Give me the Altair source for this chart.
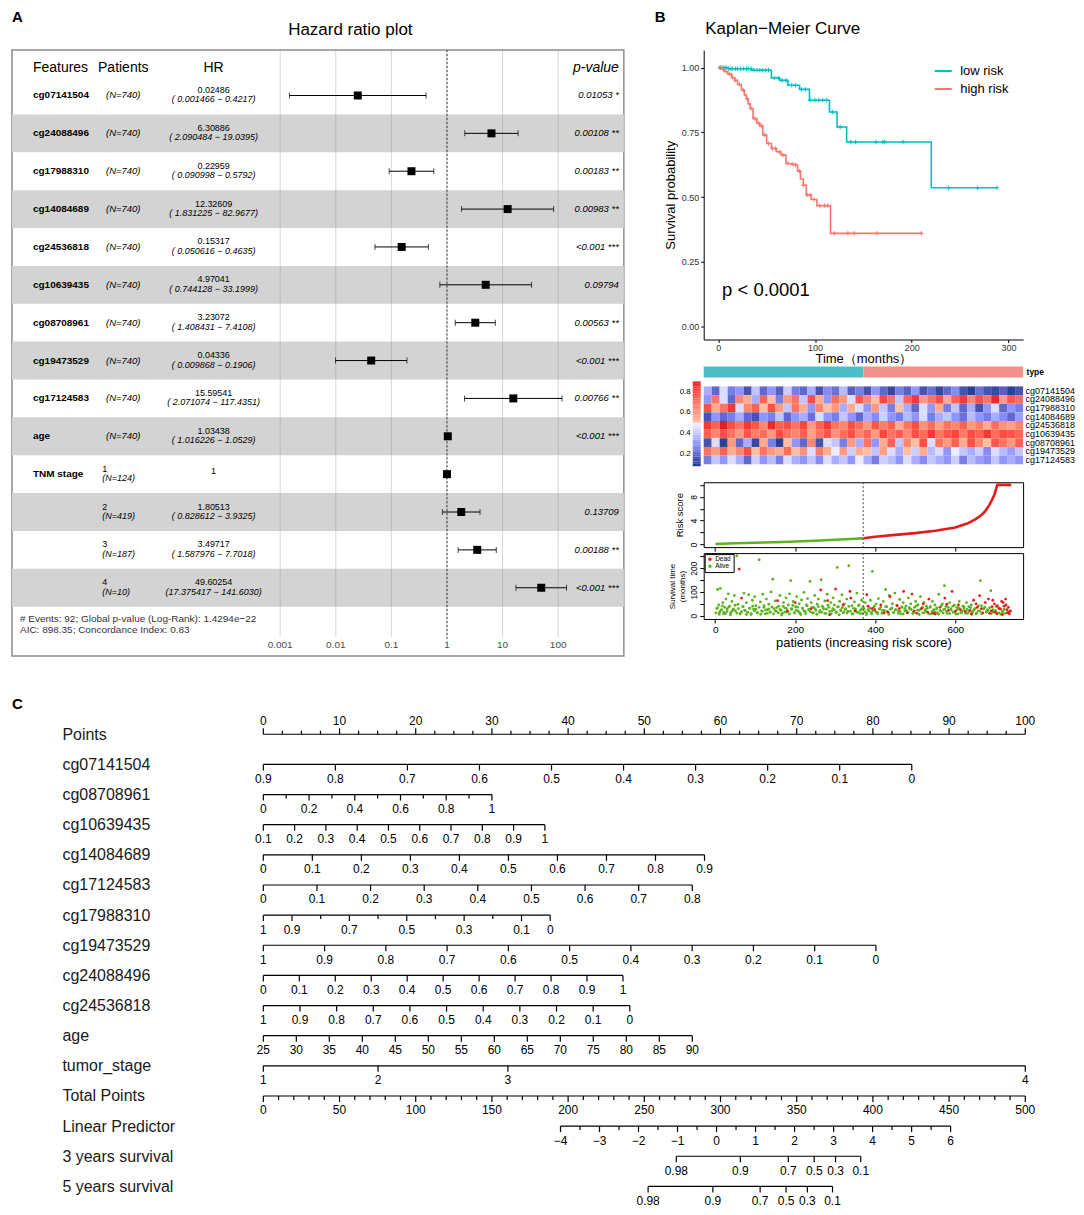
import altair as alt
import numpy as np
import pandas as pd

FONT = "Liberation Sans"

# ===================== DATA : panel A (hazard ratios) =====================
FEATURES = ["cg07141504", "cg24088496", "cg17988310", "cg14084689", "cg24536818",
            "cg10639435", "cg08708961", "cg19473529", "cg17124583", "age",
            "TNM stage", "", "", ""]
STAGE_LEVEL = ["", "", "", "", "", "", "", "", "", "", "1", "2", "3", "4"]
PATIENTS_N = [740, 740, 740, 740, 740, 740, 740, 740, 740, 740, 124, 419, 187, 10]
HR = [0.02486, 6.30886, 0.22959, 12.32609, 0.15317, 4.97041, 3.23072, 0.04336,
      15.59541, 1.03438, 1, 1.80513, 3.49717, 49.60254]
HR_LOW = [0.001466, 2.090484, 0.090998, 1.831225, 0.050616, 0.744128, 1.408431,
          0.009868, 2.071074, 1.016226, None, 0.828612, 1.587976, 17.375417]
HR_HIGH = [0.4217, 19.0395, 0.5792, 82.9677, 0.4635, 33.1999, 7.4108, 0.1906,
           117.4351, 1.0529, None, 3.9325, 7.7018, 141.6030]
HR_TEXT = ["0.02486", "6.30886", "0.22959", "12.32609", "0.15317", "4.97041", "3.23072",
           "0.04336", "15.59541", "1.03438", "1", "1.80513", "3.49717", "49.60254"]
CI_TEXT = ["( 0.001466 − 0.4217)", "( 2.090484 − 19.0395)", "( 0.090998 − 0.5792)",
           "( 1.831225 − 82.9677)", "( 0.050616 − 0.4635)", "( 0.744128 − 33.1999)",
           "( 1.408431 − 7.4108)", "( 0.009868 − 0.1906)", "( 2.071074 − 117.4351)",
           "( 1.016226 − 1.0529)", "", "( 0.828612 − 3.9325)", "( 1.587976 − 7.7018)",
           "(17.375417 − 141.6030)"]
P_TEXT = ["0.01053 *", "0.00108 **", "0.00183 **", "0.00983 **", "<0.001 ***", "0.09794",
          "0.00563 **", "<0.001 ***", "0.00766 **", "<0.001 ***", "", "0.13709",
          "0.00188 **", "<0.001 ***"]
TABLE_HEADERS = ["Features", "Patients", "HR"]
FOOTER_LINES = ["# Events: 92; Global p-value (Log-Rank): 1.4294e−22",
                "AIC: 898.35; Concordance Index: 0.83"]
HR_AXIS_TICKS = [0.001, 0.01, 0.1, 1, 10, 100]
HR_AXIS_LABELS = ["0.001", "0.01", "0.1", "1", "10", "100"]

# ===================== DATA : panel B =====================
KM_GROUPS = ["low risk", "high risk"]
KM_LOW_T = [0, 10.3, 34.3, 54.9, 63.5, 72.0, 84.0, 94.3, 114.9, 122.8, 132.7, 220.1, 288.0]
KM_LOW_S = [1.0, 0.996, 0.990, 0.960, 0.951, 0.932, 0.916, 0.874, 0.829, 0.771, 0.713, 0.536, 0.536]
KM_HIGH_T = [0, 3, 6, 10, 14, 17, 20, 24, 27, 29, 31, 33, 36, 40, 43, 46, 50, 55, 60, 65,
             70, 75, 80, 82, 85, 88, 91, 96, 102, 116, 210]
KM_HIGH_S = [1.0, 0.995, 0.985, 0.975, 0.962, 0.951, 0.935, 0.913, 0.895, 0.880, 0.860,
             0.842, 0.803, 0.785, 0.775, 0.740, 0.707, 0.688, 0.675, 0.662, 0.630, 0.627,
             0.624, 0.600, 0.570, 0.546, 0.508, 0.491, 0.467, 0.360, 0.360]
KM_LOW_CENSOR = [2, 4, 6, 8, 11, 13, 15, 18, 20, 23, 26, 29, 31, 34, 37, 40, 43, 46, 49, 52,
                 58, 62, 66, 70, 76, 80, 86, 90, 95, 100, 104, 108, 112, 118, 126, 137, 142,
                 163, 170, 172, 191, 238, 268, 288]
KM_HIGH_CENSOR = [2, 5, 8, 12, 15, 18, 22, 26, 30, 34, 38, 42, 45, 48, 52, 56, 59, 63, 67,
                  72, 77, 80, 84, 88, 92, 95, 99, 105, 110, 113, 120, 134, 140.5, 164, 210]
KM_PVALUE = "p < 0.0001"
KM_X_TICKS = [0, 100, 200, 300]
KM_Y_TICKS = [0, 0.25, 0.5, 0.75, 1.0]

N_PATIENTS = 740
RISK_CUTOFF = 370
TYPE_GROUPS = ["low risk", "high risk"]
TYPE_FROM = [0, 370]
TYPE_TO = [370, 740]

HEAT_ROWS = ["cg07141504", "cg24088496", "cg17988310", "cg14084689", "cg24536818",
             "cg10639435", "cg08708961", "cg19473529", "cg17124583"]
HEAT_VALUES = [
    [0.35, 0.2, 0.45, 0.25, 0.3, 0.15, 0.4, 0.2, 0.3, 0.18, 0.42, 0.25, 0.2, 0.35, 0.15, 0.28, 0.22, 0.38, 0.18, 0.25,
     0.15, 0.3, 0.2, 0.12, 0.25, 0.18, 0.3, 0.15, 0.22, 0.12, 0.2, 0.28, 0.15, 0.1, 0.22, 0.15, 0.12, 0.18, 0.1, 0.15],
    [0.3, 0.7, 0.45, 0.2, 0.65, 0.55, 0.35, 0.75, 0.5, 0.25, 0.6, 0.7, 0.4, 0.8, 0.55, 0.3, 0.72, 0.6, 0.45, 0.78,
     0.65, 0.5, 0.82, 0.7, 0.4, 0.75, 0.85, 0.6, 0.7, 0.8, 0.55, 0.75, 0.85, 0.65, 0.8, 0.7, 0.88, 0.6, 0.78, 0.72],
    [0.8, 0.55, 0.7, 0.85, 0.45, 0.65, 0.75, 0.5, 0.8, 0.6, 0.4, 0.7, 0.55, 0.3, 0.65, 0.5, 0.6, 0.35, 0.55, 0.45,
     0.3, 0.6, 0.4, 0.25, 0.5, 0.35, 0.2, 0.45, 0.3, 0.55, 0.25, 0.4, 0.2, 0.35, 0.15, 0.3, 0.45, 0.2, 0.3, 0.25],
    [0.15, 0.3, 0.2, 0.25, 0.35, 0.2, 0.15, 0.3, 0.25, 0.4, 0.2, 0.3, 0.35, 0.22, 0.45, 0.3, 0.25, 0.4, 0.3, 0.2,
     0.35, 0.28, 0.42, 0.3, 0.25, 0.38, 0.3, 0.45, 0.25, 0.35, 0.4, 0.3, 0.22, 0.38, 0.3, 0.25, 0.35, 0.28, 0.2, 0.32],
    [0.85, 0.75, 0.9, 0.8, 0.7, 0.85, 0.78, 0.65, 0.88, 0.75, 0.8, 0.7, 0.82, 0.6, 0.75, 0.85, 0.7, 0.65, 0.8, 0.72,
     0.6, 0.78, 0.68, 0.75, 0.55, 0.7, 0.8, 0.62, 0.72, 0.58, 0.7, 0.65, 0.75, 0.6, 0.68, 0.55, 0.72, 0.62, 0.58, 0.66],
    [0.75, 0.65, 0.8, 0.7, 0.6, 0.78, 0.68, 0.72, 0.6, 0.8, 0.7, 0.65, 0.75, 0.58, 0.7, 0.78, 0.62, 0.72, 0.8, 0.66,
     0.74, 0.6, 0.82, 0.7, 0.76, 0.64, 0.8, 0.72, 0.85, 0.7, 0.78, 0.82, 0.68, 0.8, 0.75, 0.85, 0.72, 0.8, 0.78, 0.74],
    [0.15, 0.45, 0.1, 0.6, 0.2, 0.35, 0.12, 0.55, 0.25, 0.1, 0.5, 0.3, 0.2, 0.65, 0.15, 0.45, 0.4, 0.25, 0.6, 0.35,
     0.7, 0.3, 0.55, 0.75, 0.4, 0.65, 0.5, 0.8, 0.45, 0.7, 0.6, 0.75, 0.55, 0.8, 0.65, 0.5, 0.78, 0.7, 0.6, 0.75],
    [0.7, 0.6, 0.75, 0.55, 0.65, 0.8, 0.5, 0.7, 0.6, 0.55, 0.72, 0.5, 0.62, 0.45, 0.68, 0.55, 0.48, 0.6, 0.42, 0.55,
     0.5, 0.4, 0.58, 0.45, 0.35, 0.5, 0.42, 0.55, 0.38, 0.45, 0.3, 0.48, 0.4, 0.35, 0.42, 0.28, 0.45, 0.38, 0.32, 0.4],
    [0.25, 0.4, 0.3, 0.45, 0.35, 0.2, 0.42, 0.3, 0.38, 0.25, 0.45, 0.35, 0.3, 0.4, 0.28, 0.45, 0.35, 0.4, 0.3, 0.48,
     0.35, 0.25, 0.42, 0.38, 0.3, 0.45, 0.35, 0.28, 0.4, 0.35, 0.3, 0.42, 0.25, 0.38, 0.32, 0.28, 0.4, 0.3, 0.35, 0.3],
]
HEAT_DOMAIN = [0.08, 0.5, 0.9]
HEAT_LEGEND_VALUES = [0.2, 0.4, 0.6, 0.8]

RISK_PATIENT = [1, 50, 100, 150, 200, 250, 300, 350, 370, 371, 400, 450, 500, 550, 600, 630,
                650, 665, 675, 685, 692, 698, 702, 705, 740]
RISK_SCORE = [0.08, 0.2, 0.28, 0.38, 0.5, 0.62, 0.78, 0.95, 1.02, 1.05, 1.3, 1.6, 1.9, 2.3,
              2.85, 3.5, 4.2, 4.9, 5.6, 6.6, 7.5, 8.4, 9.3, 10.0, 10.0]

ALIVE_OBS = [(4, 30), (6, 110), (9, 45), (11, 15), (13, 115), (16, 25), (19, 55), (21, 8), (24, 35), (27, 70),
             (30, 18), (33, 92), (36, 40), (39, 12), (42, 60), (45, 28), (48, 85), (51, 20), (54, 252), (57, 48),
             (63, 10), (69, 38), (72, 95), (75, 22), (78, 55), (81, 14), (84, 88), (87, 32), (90, 5), (93, 65),
             (96, 27), (99, 80), (102, 42), (105, 12), (110, 235), (113, 58), (116, 20), (119, 90), (122, 35),
             (125, 8), (128, 70), (131, 25), (134, 48), (137, 15), (140, 100), (144, 153), (147, 30), (150, 62),
             (153, 18), (159, 40), (162, 85), (165, 22), (168, 10), (171, 55), (174, 33), (177, 75), (180, 15),
             (183, 45), (186, 92), (189, 147), (192, 28), (195, 60), (198, 12), (201, 38), (204, 80), (207, 20),
             (210, 50), (213, 8), (216, 66), (219, 30), (222, 98), (225, 18), (228, 45), (231, 72), (234, 25),
             (237, 144), (240, 55), (243, 12), (246, 35), (249, 85), (252, 22), (255, 48), (258, 70), (261, 15),
             (265, 151), (268, 40), (271, 28), (274, 62), (277, 10), (280, 90), (284, 35), (289, 55), (292, 20),
             (295, 75), (298, 45), (303, 15), (305, 203), (308, 38), (311, 60), (314, 25), (317, 88), (320, 12),
             (323, 50), (326, 30), (329, 70), (332, 18), (334, 210), (342, 42), (345, 8), (348, 58), (351, 28),
             (354, 95), (357, 15), (360, 45), (363, 22), (366, 65), (368, 10), (372, 30), (375, 55), (378, 12),
             (385, 20), (388, 65), (391, 8), (393, 186), (396, 35), (402, 50), (405, 15), (408, 72), (411, 28),
             (417, 10), (420, 60), (423, 22), (426, 110), (429, 38), (435, 85), (440, 30), (443, 50), (446, 12),
             (449, 95), (452, 25), (458, 18), (461, 68), (464, 8), (467, 35), (470, 55), (474, 20), (477, 40),
             (483, 75), (486, 28), (489, 50), (495, 15), (498, 35), (501, 60), (507, 45), (510, 22), (513, 80),
             (519, 12), (522, 55), (525, 25), (528, 40), (537, 35), (540, 8), (543, 60), (546, 20), (549, 45),
             (553, 28), (556, 12), (559, 90), (565, 18), (568, 50), (571, 25), (573, 126), (577, 40), (580, 10),
             (586, 55), (589, 30), (595, 15), (598, 45), (604, 35), (607, 8), (610, 60), (616, 12), (619, 40),
             (622, 30), (628, 55), (631, 10), (634, 38), (640, 45), (643, 15), (649, 28), (652, 8), (658, 20),
             (663, 147), (666, 42), (672, 30), (678, 18), (681, 25), (689, 105), (695, 15), (701, 22), (707, 35),
             (710, 12), (719, 18), (725, 10), (732, 15)]
ALIVE_BAND_T = [12, 33, 6, 22, 41, 15, 9, 28, 36, 4, 19, 25, 44, 11, 30, 7, 17, 38, 23, 5, 14, 31, 9, 40, 20,
                27, 13, 35, 6, 18, 42, 24, 10, 29, 16, 37, 8, 21, 34, 12, 26, 3, 39, 15, 31, 19, 7, 28, 43, 11,
                23, 36, 14, 5, 32, 20, 9, 41, 25, 17, 35, 12, 29, 6, 38, 22, 15, 33, 10, 27, 44, 18, 8, 30, 24,
                13, 37, 4, 21, 34, 16, 26, 11, 39, 19, 7, 31, 23, 14, 42, 9, 28, 36, 17, 5, 25, 33, 12, 20, 40,
                15, 8, 29, 35, 22, 11, 38, 18, 6, 27, 32, 14, 24, 43, 10, 19, 37, 7, 30, 21, 13, 34, 26, 9, 16,
                41, 23, 5, 28, 36, 12, 20, 31, 8, 39, 17, 25, 14, 33, 6, 22, 44, 11, 29, 18, 35, 9, 24, 40, 15,
                7, 27, 32, 13, 20, 38, 10, 26, 17, 34, 5, 23, 30, 12, 42, 19, 8, 28, 36, 14, 21, 33, 9, 25, 16,
                39, 11, 30, 6, 18, 27]
DEAD_OBS = [(60, 196), (66, 74), (156, 63), (180, 20), (200, 55), (240, 30), (264, 108), (281, 63), (286, 4),
            (301, 112), (320, 45), (337, 102), (339, 74), (350, 20), (379, 88), (382, 40), (392, 30), (399, 25),
            (414, 45), (422, 12), (432, 15), (437, 80), (455, 42), (460, 30), (471, 102), (480, 12), (492, 91),
            (497, 20), (504, 10), (516, 30), (520, 50), (531, 15), (534, 70), (545, 10), (550, 7), (562, 35),
            (574, 74), (579, 48), (583, 22), (592, 102), (601, 20), (608, 45), (613, 25), (625, 18), (637, 22),
            (640, 8), (646, 65), (652, 50), (655, 35), (661, 84), (665, 30), (669, 12), (675, 55), (683, 70),
            (686, 10), (690, 20), (692, 38), (694, 65), (698, 50), (700, 15), (704, 8), (705, 42), (710, 30),
            (713, 28), (716, 60), (718, 5), (720, 55), (722, 40), (726, 70), (727, 45), (729, 25), (731, 12),
            (733, 35), (735, 8), (736, 18), (738, 20)]

# ===================== DATA : panel C (nomogram) =====================
NOMO_ROWS = ["Points", "cg07141504", "cg08708961", "cg10639435", "cg14084689", "cg17124583",
             "cg17988310", "cg19473529", "cg24088496", "cg24536818", "age", "tumor_stage",
             "Total Points", "Linear Predictor", "3 years survival", "5 years survival"]
# linear axes: value at left end, value at right end, points at left end, points at right end
NOMO_LINEAR = {
    "Points": (0, 100, 0.0, 100.0),
    "cg07141504": (0.9, 0.0, 0.0, 85.1),
    "cg08708961": (0.0, 1.0, 0.0, 30.0),
    "cg10639435": (0.1, 1.0, 0.0, 36.95),
    "cg14084689": (0.0, 0.9, 0.0, 57.9),
    "cg17124583": (0.0, 0.8, 0.0, 56.3),
    "cg17988310": (1.0, 0.0, 0.0, 37.65),
    "cg19473529": (1.0, 0.0, 0.0, 80.4),
    "cg24088496": (0.0, 1.0, 0.0, 47.2),
    "cg24536818": (1.0, 0.0, 0.0, 48.1),
    "age": (25, 90, 0.0, 56.3),
    "Total Points": (0, 500, 0.0, 100.0),
    "Linear Predictor": (-4, 6, 39.0, 90.2),
}
NOMO_TICK_STEP = {"Points": 2.5, "age": 5, "Total Points": 10, "Linear Predictor": 0.5}
NOMO_LABELS = {
    "Points": ["0", "10", "20", "30", "40", "50", "60", "70", "80", "90", "100"],
    "cg07141504": ["0.9", "0.8", "0.7", "0.6", "0.5", "0.4", "0.3", "0.2", "0.1", "0"],
    "cg08708961": ["0", "0.2", "0.4", "0.6", "0.8", "1"],
    "cg10639435": ["0.1", "0.2", "0.3", "0.4", "0.5", "0.6", "0.7", "0.8", "0.9", "1"],
    "cg14084689": ["0", "0.1", "0.2", "0.3", "0.4", "0.5", "0.6", "0.7", "0.8", "0.9"],
    "cg17124583": ["0", "0.1", "0.2", "0.3", "0.4", "0.5", "0.6", "0.7", "0.8"],
    "cg17988310": ["1", "0.9", "0.7", "0.5", "0.3", "0.1", "0"],
    "cg19473529": ["1", "0.9", "0.8", "0.7", "0.6", "0.5", "0.4", "0.3", "0.2", "0.1", "0"],
    "cg24088496": ["0", "0.1", "0.2", "0.3", "0.4", "0.5", "0.6", "0.7", "0.8", "0.9", "1"],
    "cg24536818": ["1", "0.9", "0.8", "0.7", "0.6", "0.5", "0.4", "0.3", "0.2", "0.1", "0"],
    "age": ["25", "30", "35", "40", "45", "50", "55", "60", "65", "70", "75", "80", "85", "90"],
    "Total Points": ["0", "50", "100", "150", "200", "250", "300", "350", "400", "450", "500"],
    "Linear Predictor": ["−4", "−3", "−2", "−1", "0", "1", "2", "3", "4", "5", "6"],
}
NOMO_POINT_AXES = {
    "tumor_stage": (["1", "2", "3", "4"], [0.0, 15.06, 32.1, 100.0]),
    "3 years survival": (["0.98", "0.9", "0.7", "0.5", "0.3", "0.1"],
                         [54.2, 62.6, 68.9, 72.3, 75.1, 78.4]),
    "5 years survival": (["0.98", "0.9", "0.7", "0.5", "0.3", "0.1"],
                         [50.5, 59.0, 65.2, 68.6, 71.4, 74.7]),
}

# ===================== colours =====================
KM_COLORS = ["#00BFC4", "#F8766D"]
TYPE_COLORS = ["#4DBEC8", "#F2908A"]
HEAT_COLORS = ["#22378F", "#FFFFFF", "#E41E26"]
RISK_COLORS = ["#5CB31D", "#E41A1C"]
STATUS_COLORS = ["#E41A1C", "#5CB31D"]


def note(text, dx, dy, **mark):
    """Panel letter / title text placed relative to a panel's plot area."""
    style = dict(fontSize=15, fontWeight="bold", align="left", baseline="top", color="black")
    style.update(mark)
    return alt.Chart(pd.DataFrame({"t": [text]})).mark_text(**style).encode(
        x=alt.value(dx), y=alt.value(dy), text="t:N")


# ===================== PANEL A =====================
A_W, A_H = 613, 607
A_UNITS = 16.0
nA = len(FEATURES)
dfA = pd.DataFrame({
    "feature": FEATURES, "level": STAGE_LEVEL,
    "ntext": [f"(N={n})" for n in PATIENTS_N],
    "hr": HR, "lo": HR_LOW, "hi": HR_HIGH,
    "hrtext": HR_TEXT, "citext": CI_TEXT, "ptext": P_TEXT,
})
dfA["yc"] = [i + 1.2 for i in range(nA)]
dfA["y0"] = dfA["yc"] - 0.5
dfA["y1"] = dfA["yc"] + 0.5
dfA["band"] = [i % 2 == 1 for i in range(nA)]
dfA["isstage"] = dfA["level"] != ""

YA = alt.Scale(domain=[0, A_UNITS], reverse=True, nice=False, zero=False)
XF = alt.Scale(type="log", domain=[0.001, 100], range=[268.7, 547.2], nice=False)
XT = alt.Scale(domain=TABLE_HEADERS, range=[21, 202], padding=0)
XPV = alt.Scale(domain=["p-value"], range=[600, 616])


def ya(f):
    return alt.Y(f, scale=YA, axis=None)


bands = alt.Chart(dfA[dfA["band"]]).mark_rect(color="#D3D3D3").encode(y=ya("y0:Q"), y2="y1:Q")

grid_df = pd.DataFrame({"t": HR_AXIS_TICKS, "lab": HR_AXIS_LABELS})
grid_df["g0"] = 0.0
grid_df["g1"] = 15.5
grid_df["ly"] = 15.71
grid = alt.Chart(grid_df).mark_rule(color="#8a8a8a", opacity=0.35, strokeWidth=1).encode(
    x=alt.X("t:Q", scale=XF, axis=None), y=ya("g0:Q"), y2="g1:Q")
ref_df = pd.DataFrame({"t": [1.0], "g0": [0.0], "g1": [15.62]})
refline = alt.Chart(ref_df).mark_rule(color="#333333", strokeDash=[2, 2], strokeWidth=1).encode(
    x=alt.X("t:Q", scale=XF, axis=None), y=ya("g0:Q"), y2="g1:Q")
ci_df = dfA.dropna(subset=["lo"])
ci = alt.Chart(ci_df).mark_rule(color="black", strokeWidth=1).encode(
    x=alt.X("lo:Q", scale=XF, axis=None), x2="hi:Q", y=ya("yc:Q"))
caps_df = pd.concat([ci_df[["lo", "yc"]].rename(columns={"lo": "cap"}),
                     ci_df[["hi", "yc"]].rename(columns={"hi": "cap"})])
caps = alt.Chart(caps_df).mark_tick(orient="vertical", size=6, thickness=1, color="black").encode(
    x=alt.X("cap:Q", scale=XF, axis=None), y=ya("yc:Q"))
squares = alt.Chart(dfA).mark_square(size=64, color="black", opacity=1).encode(
    x=alt.X("hr:Q", scale=XF, axis=None), y=ya("yc:Q"))
ticklab = alt.Chart(grid_df).mark_text(fontSize=10, color="#4d4d4d").encode(
    x=alt.X("t:Q", scale=XF, axis=None), y=ya("ly:Q"), text="lab:N")
forest = alt.layer(grid, refline, ci, caps, squares, ticklab)


def tcol(df, text, **mark):
    return alt.Chart(df).mark_text(color="black", **mark).encode(
        x=alt.X("col:N", scale=XT, axis=None), y=ya("y:Q"), text=f"{text}:N")


hdr = pd.DataFrame({"col": TABLE_HEADERS, "txt": TABLE_HEADERS, "y": 0.47})
rows = dfA.assign(y=dfA["yc"])
foot = pd.DataFrame({"txt": FOOTER_LINES, "y": [15.03, 15.32], "col": "Features"})
table = alt.layer(
    tcol(hdr[hdr["col"] == "Features"], "txt", fontSize=14, align="left"),
    tcol(hdr[hdr["col"] != "Features"], "txt", fontSize=14, align="center"),
    tcol(rows[rows["feature"] != ""].assign(col="Features"), "feature", fontSize=10,
         fontWeight="bold", align="left"),
    tcol(rows[~rows["isstage"]].assign(col="Patients"), "ntext", fontSize=9.5, fontStyle="italic"),
    tcol(rows[rows["isstage"]].assign(col="Patients"), "level", fontSize=9, align="left", dx=-21, dy=-5.5),
    tcol(rows[rows["isstage"]].assign(col="Patients"), "ntext", fontSize=9, fontStyle="italic",
         align="left", dx=-21, dy=4),
    tcol(rows[rows["citext"] != ""].assign(col="HR"), "hrtext", fontSize=9, dy=-5.5),
    tcol(rows[rows["citext"] != ""].assign(col="HR"), "citext", fontSize=9, fontStyle="italic", dy=4),
    tcol(rows[rows["citext"] == ""].assign(col="HR"), "hrtext", fontSize=9, dy=-3),
    alt.Chart(foot).mark_text(fontSize=10, align="left", dx=-13, color="#333333").encode(
        x=alt.X("col:N", scale=XT, axis=None), y=ya("y:Q"), text="txt:N"),
)


def pcol_layer(df, text, **mark):
    return alt.Chart(df).mark_text(color="black", align="right", fontStyle="italic", **mark).encode(
        x=alt.X("col:N", scale=XPV, axis=None), y=ya("y:Q"), text=f"{text}:N")


pcol = alt.layer(
    pcol_layer(pd.DataFrame({"col": ["p-value"], "txt": ["p-value"], "y": [0.47]}), "txt", fontSize=14),
    pcol_layer(rows[rows["ptext"] != ""].assign(col="p-value"), "ptext", fontSize=9.5),
)

panelA = alt.layer(
    bands, forest, table, pcol,
    note("A", 0, -40),
    note("Hazard ratio plot", 339, -20, fontSize=17, fontWeight="normal", align="center", baseline="middle"),
).resolve_scale(x="independent").properties(
    width=A_W, height=A_H,
    view=alt.ViewBackground(stroke="#8c8c8c", strokeWidth=1.5, fill="white"),
)

# ===================== PANEL B : Kaplan-Meier =====================
XKM = alt.Scale(domain=[-15, 315], nice=False, zero=False)
YKM = alt.Scale(domain=[-0.05, 1.068], nice=False, zero=False)
KMC = alt.Scale(domain=KM_GROUPS, range=KM_COLORS)


def step_value(ts, ss, t):
    val = ss[0]
    for ti, si in zip(ts, ss):
        if ti <= t:
            val = si
    return val


km_df = pd.concat([
    pd.DataFrame({"t": KM_LOW_T, "s": KM_LOW_S, "grp": KM_GROUPS[0]}),
    pd.DataFrame({"t": KM_HIGH_T, "s": KM_HIGH_S, "grp": KM_GROUPS[1]}),
])
cens_df = pd.concat([
    pd.DataFrame({"t": KM_LOW_CENSOR, "s": [step_value(KM_LOW_T, KM_LOW_S, c) for c in KM_LOW_CENSOR],
                  "grp": KM_GROUPS[0]}),
    pd.DataFrame({"t": KM_HIGH_CENSOR, "s": [step_value(KM_HIGH_T, KM_HIGH_S, c) for c in KM_HIGH_CENSOR],
                  "grp": KM_GROUPS[1]}),
])
km_legend = alt.Legend(title=None, orient="none", legendX=230, legendY=11, symbolType="stroke",
                       symbolStrokeWidth=2, symbolSize=290, labelFontSize=13, labelOffset=7,
                       rowPadding=1, padding=0, labelColor="black")
ax_km_x = alt.Axis(values=KM_X_TICKS, title="Time（months）", labelFontSize=9, labelColor="#333333",
                   titleFontSize=13, titleFontWeight="normal", tickSize=3, titlePadding=0, labelPadding=1)
ax_km_y = alt.Axis(values=KM_Y_TICKS, format=".2f", title="Survival probability", labelFontSize=9,
                   labelColor="#333333", titleFontSize=13, titleFontWeight="normal", tickSize=3,
                   titlePadding=4, labelPadding=2)
km_line = alt.Chart(km_df).mark_line(interpolate="step-after", strokeWidth=1.6).encode(
    x=alt.X("t:Q", scale=XKM, axis=ax_km_x), y=alt.Y("s:Q", scale=YKM, axis=ax_km_y),
    color=alt.Color("grp:N", scale=KMC, legend=km_legend))
km_cens = alt.Chart(cens_df).mark_point(shape="M-1,0L1,0M0,-1L0,1", size=20, strokeWidth=1,
                                        filled=False, opacity=1).encode(
    x=alt.X("t:Q", scale=XKM, axis=ax_km_x), y=alt.Y("s:Q", scale=YKM, axis=ax_km_y),
    color=alt.Color("grp:N", scale=KMC, legend=km_legend))
km_p = alt.Chart(pd.DataFrame({"t": [4.0], "s": [0.14], "lab": [KM_PVALUE]})).mark_text(
    fontSize=18.5, align="left", baseline="middle", color="black").encode(
    x=alt.X("t:Q", scale=XKM, axis=ax_km_x), y=alt.Y("s:Q", scale=YKM, axis=ax_km_y), text="lab:N")
km = alt.layer(
    km_line, km_cens, km_p,
    note("B", -49, -40),
    note("Kaplan−Meier Curve", 1.5, -21, fontSize=17, fontWeight="normal", baseline="middle"),
).properties(width=320, height=290, view=alt.ViewBackground(stroke="transparent"))

# ===================== PANEL B : type bar + heatmap =====================
XCOL = alt.Scale(domain=[0, N_PATIENTS], nice=False, zero=False)
type_df = pd.DataFrame({"a": TYPE_FROM, "b": TYPE_TO, "g": TYPE_GROUPS, "lab": "type"})
typebar = alt.Chart(type_df).mark_rect().encode(
    x=alt.X("a:Q", scale=XCOL, axis=None), x2="b:Q",
    y=alt.Y("lab:N", axis=alt.Axis(orient="right", title=None, ticks=False, domain=False,
                                   labelFontWeight="bold", labelFontSize=8.5, labelPadding=3,
                                   labelColor="black")),
    color=alt.Color("g:N", scale=alt.Scale(domain=TYPE_GROUPS, range=TYPE_COLORS), legend=None),
).properties(width=320, height=11, view=alt.ViewBackground(stroke="transparent"))

HEATSCALE = alt.Scale(domain=HEAT_DOMAIN, range=HEAT_COLORS)
ncols = len(HEAT_VALUES[0])
heat_records = []
for r, vals in zip(HEAT_ROWS, HEAT_VALUES):
    for c, v in enumerate(vals):
        heat_records.append({"r": r, "c": c, "c1": c + 1, "v": v})
heat_df = pd.DataFrame(heat_records)
heat_main = alt.Chart(heat_df).mark_rect().encode(
    x=alt.X("c:Q", scale=alt.Scale(domain=[0, ncols], nice=False, zero=False), axis=None), x2="c1:Q",
    y=alt.Y("r:N", sort=HEAT_ROWS, scale=alt.Scale(paddingInner=0, paddingOuter=0),
            axis=alt.Axis(orient="right", title=None, ticks=False, domain=False, labelFontSize=9,
                          labelPadding=2, labelColor="black")),
    color=alt.Color("v:Q", scale=HEATSCALE, legend=None),
)
# colour key drawn beside the heatmap (legend gradient)
cb_edges = np.linspace(HEAT_DOMAIN[0], HEAT_DOMAIN[-1], 36)
cb_df = pd.DataFrame({"v0": cb_edges[:-1], "v1": cb_edges[1:]})
cb_df["v"] = (cb_df["v0"] + cb_df["v1"]) / 2
cb_df["x0"] = 0.0
cb_df["x1"] = 1.0
CB_X = alt.Scale(domain=[0, 1], range=[-11, -3], nice=False, zero=False)
CB_Y = alt.Scale(domain=[HEAT_DOMAIN[0], HEAT_DOMAIN[-1]], range=[80, -5], nice=False, zero=False)
cbar = alt.Chart(cb_df).mark_rect().encode(
    x=alt.X("x0:Q", scale=CB_X, axis=None), x2="x1:Q",
    y=alt.Y("v0:Q", scale=CB_Y, axis=None), y2="v1:Q",
    color=alt.Color("v:Q", scale=HEATSCALE, legend=None))
cbl_df = pd.DataFrame({"v": HEAT_LEGEND_VALUES, "lab": [str(v) for v in HEAT_LEGEND_VALUES], "x0": 0.0})
cbar_lab = alt.Chart(cbl_df).mark_text(fontSize=8, align="right", dx=-2, color="black").encode(
    x=alt.X("x0:Q", scale=CB_X, axis=None), y=alt.Y("v:Q", scale=CB_Y, axis=None), text="lab:N")
heat = alt.layer(heat_main, alt.layer(cbar, cbar_lab)).resolve_scale(
    x="independent", y="independent").properties(
    width=320, height=78, view=alt.ViewBackground(stroke="transparent"))

# ===================== PANEL B : risk score + survival time =====================
XPAT = alt.Scale(domain=[-28.6, 769.6], nice=False, zero=False)
risk_df = pd.DataFrame({"p": RISK_PATIENT, "risk": RISK_SCORE})
risk_df["grp"] = np.where(risk_df["p"] <= RISK_CUTOFF, "low", "high")
cut_df = pd.DataFrame({"cut": [RISK_CUTOFF]})

ax_risk_x = alt.Axis(values=[0, 200, 400, 600], labels=False, tickSize=4, domain=False, title=None)
risk_line = alt.Chart(risk_df).mark_line(strokeWidth=2.6).encode(
    x=alt.X("p:Q", scale=XPAT, axis=ax_risk_x),
    y=alt.Y("risk:Q", scale=alt.Scale(domain=[-0.45, 10.45], nice=False, zero=False),
            axis=alt.Axis(values=[0, 2, 4, 6, 8, 10], labelExpr="datum.value % 4 == 0 ? datum.label : ''",
                          labelAngle=270, labelAlign="center", labelBaseline="bottom", labelFontSize=8.5,
                          tickSize=4, domain=False, title="Risk score", titleFontSize=9.5,
                          titleFontWeight="normal", titlePadding=5, labelPadding=1)),
    color=alt.Color("grp:N", scale=alt.Scale(domain=["low", "high"], range=RISK_COLORS), legend=None),
)
risk_cut = alt.Chart(cut_df).mark_rule(strokeDash=[2, 2], color="#444444", strokeWidth=1).encode(
    x=alt.X("cut:Q", scale=XPAT, axis=ax_risk_x))
risk = alt.layer(risk_line, risk_cut).properties(
    width=320, height=65, view=alt.ViewBackground(stroke="black", strokeWidth=1))

surv_records = [{"p": p, "t": t, "status": "Alive"} for p, t in ALIVE_OBS]
surv_records += [{"p": p, "t": t, "status": "Alive"} for p, t in zip(range(2, N_PATIENTS, 4), ALIVE_BAND_T)]
surv_records += [{"p": p, "t": t, "status": "Dead"} for p, t in DEAD_OBS]
surv_df = pd.DataFrame(surv_records)
ax_surv_x = alt.Axis(values=[0, 200, 400, 600], labelFontSize=10, tickSize=4, domain=False,
                     title="patients (increasing risk score)", titleFontSize=13, titleFontWeight="normal",
                     titlePadding=2, labelPadding=2)
surv_pts = alt.Chart(surv_df).mark_circle(size=8, opacity=1).encode(
    x=alt.X("p:Q", scale=XPAT, axis=ax_surv_x),
    y=alt.Y("t:Q", scale=alt.Scale(domain=[-13.8, 263], nice=False, zero=False),
            axis=alt.Axis(values=[0, 50, 100, 150, 200, 250],
                          labelExpr="datum.value % 100 == 0 ? datum.label : ''", labelAngle=270,
                          labelAlign="center", labelBaseline="bottom", labelFontSize=8.5, tickSize=4,
                          domain=False, title=["Survival time", "(months)"], titleFontSize=8,
                          titleFontWeight="normal", titlePadding=3, labelPadding=1)),
    color=alt.Color("status:N", scale=alt.Scale(domain=["Dead", "Alive"], range=STATUS_COLORS),
                    legend=alt.Legend(title=None, orient="top-left", offset=1, padding=2,
                                      strokeColor="black", fillColor="white", labelFontSize=6.5,
                                      symbolSize=12, symbolType="circle", rowPadding=0, labelOffset=2)),
)
surv_cut = alt.Chart(cut_df).mark_rule(strokeDash=[2, 2], color="#444444", strokeWidth=1).encode(
    x=alt.X("cut:Q", scale=XPAT, axis=ax_surv_x))
surv = alt.layer(surv_pts, surv_cut).properties(
    width=320, height=66, view=alt.ViewBackground(stroke="black", strokeWidth=1))


def vc(a, b, sp):
    return alt.vconcat(a, b, spacing=sp, bounds="flush").resolve_scale(color="independent")


panelB = vc(km, vc(typebar, vc(heat, vc(risk, surv, 6), 18), 9), 27)

# ===================== PANEL C : nomogram =====================
lines, ticks, labels = [], [], []
for ri, name in enumerate(NOMO_ROWS):
    up = name == "Points"
    if name in NOMO_LINEAR:
        v0, v1, p0, p1 = NOMO_LINEAR[name]
        step = NOMO_TICK_STEP.get(name, 0.1)
        lo, hi = min(v0, v1), max(v0, v1)
        labmap = {round(float(s.replace("−", "-")), 6): s for s in NOMO_LABELS[name]}
        n = int(round((hi - lo) / step))
        for k in range(n + 1):
            v = round(lo + k * step, 6)
            pts = p0 + (v - v0) / (v1 - v0) * (p1 - p0)
            major = v in labmap
            ticks.append({"ri": ri, "pts": pts, "major": major, "up": up})
            if major:
                labels.append({"ri": ri, "pts": pts, "txt": labmap[v], "up": up})
        lines.append({"ri": ri, "x0": min(p0, p1), "x1": max(p0, p1)})
    else:
        labs, pts_list = NOMO_POINT_AXES[name]
        for s, pts in zip(labs, pts_list):
            ticks.append({"ri": ri, "pts": pts, "major": True, "up": up})
            labels.append({"ri": ri, "pts": pts, "txt": s, "up": up})
        lines.append({"ri": ri, "x0": min(pts_list), "x1": max(pts_list)})
lines_df = pd.DataFrame(lines)
ticks_df = pd.DataFrame(ticks)
labels_df = pd.DataFrame(labels)

C_W, C_H = 1060, 490
ROW_STEP = 30.2
d0 = -30.5 / ROW_STEP
YN = alt.Scale(domain=[d0, d0 + C_H / ROW_STEP], reverse=True, nice=False, zero=False)
XN = alt.Scale(domain=[0, 100], range=[251.8, 1015.2], nice=False, zero=False)
js_names = "[" + ",".join(f"'{n}'" for n in NOMO_ROWS) + "]"
AX_ROWS = alt.Axis(values=list(range(len(NOMO_ROWS))), labelExpr=js_names + "[datum.value]",
                   labelAlign="left", labelBaseline="middle", labelFontSize=16, labelColor="#1a1a1a",
                   ticks=False, tickSize=0, domain=False, grid=False, title=None, labelPadding=0,
                   offset=-50, labelLimit=400)


def yn(f="ri:Q"):
    return alt.Y(f, scale=YN, axis=AX_ROWS)


nomo_lines = alt.Chart(lines_df).mark_rule(color="black", strokeWidth=1.2).encode(
    x=alt.X("x0:Q", scale=XN, axis=None), x2="x1:Q", y=yn())


def tick_layer(df, off):
    return alt.Chart(df).mark_rule(color="black", strokeWidth=1.2, y2Offset=off).encode(
        x=alt.X("pts:Q", scale=XN, axis=None), y=yn(), y2="ri:Q")


t_dn_major = tick_layer(ticks_df[(~ticks_df["up"]) & ticks_df["major"]], 6)
t_dn_minor = tick_layer(ticks_df[(~ticks_df["up"]) & (~ticks_df["major"])], 4)
t_up_major = tick_layer(ticks_df[ticks_df["up"] & ticks_df["major"]], -6)
t_up_minor = tick_layer(ticks_df[ticks_df["up"] & (~ticks_df["major"])], -3.5)
lab_dn = alt.Chart(labels_df[~labels_df["up"]]).mark_text(fontSize=12, dy=14.5, color="black").encode(
    x=alt.X("pts:Q", scale=XN, axis=None), y=yn(), text="txt:N")
lab_up = alt.Chart(labels_df[labels_df["up"]]).mark_text(fontSize=12, dy=-13, color="black").encode(
    x=alt.X("pts:Q", scale=XN, axis=None), y=yn(), text="txt:N")

panelC = alt.layer(nomo_lines, t_dn_major, t_dn_minor, t_up_major, t_up_minor, lab_dn, lab_up,
                   note("C", 0, -7)).properties(
    width=C_W, height=C_H, view=alt.ViewBackground(stroke="transparent"))

# ===================== assemble =====================
# (with flush bounds a nested concat contributes no height, so the gap below row 1
#  is the height of panel A plus the visible gap)
row1 = alt.hconcat(panelA, panelB, spacing=80, bounds="flush").resolve_scale(color="independent")
chart = alt.vconcat(row1, panelC, spacing=A_H + 48, bounds="flush").resolve_scale(
    color="independent"
).properties(
    padding={"left": 3, "top": 0, "right": 0, "bottom": 0}
).configure(font=FONT).configure_view(stroke="transparent").configure_axis(
    labelFont=FONT, titleFont=FONT, grid=False, tickColor="black", domainColor="black",
    labelColor="black", titleColor="black"
).configure_legend(labelFont=FONT, titleFont=FONT).configure_title(font=FONT).configure_text(font=FONT)

chart.save("out.html", embed_options={"renderer": "svg", "actions": False})
